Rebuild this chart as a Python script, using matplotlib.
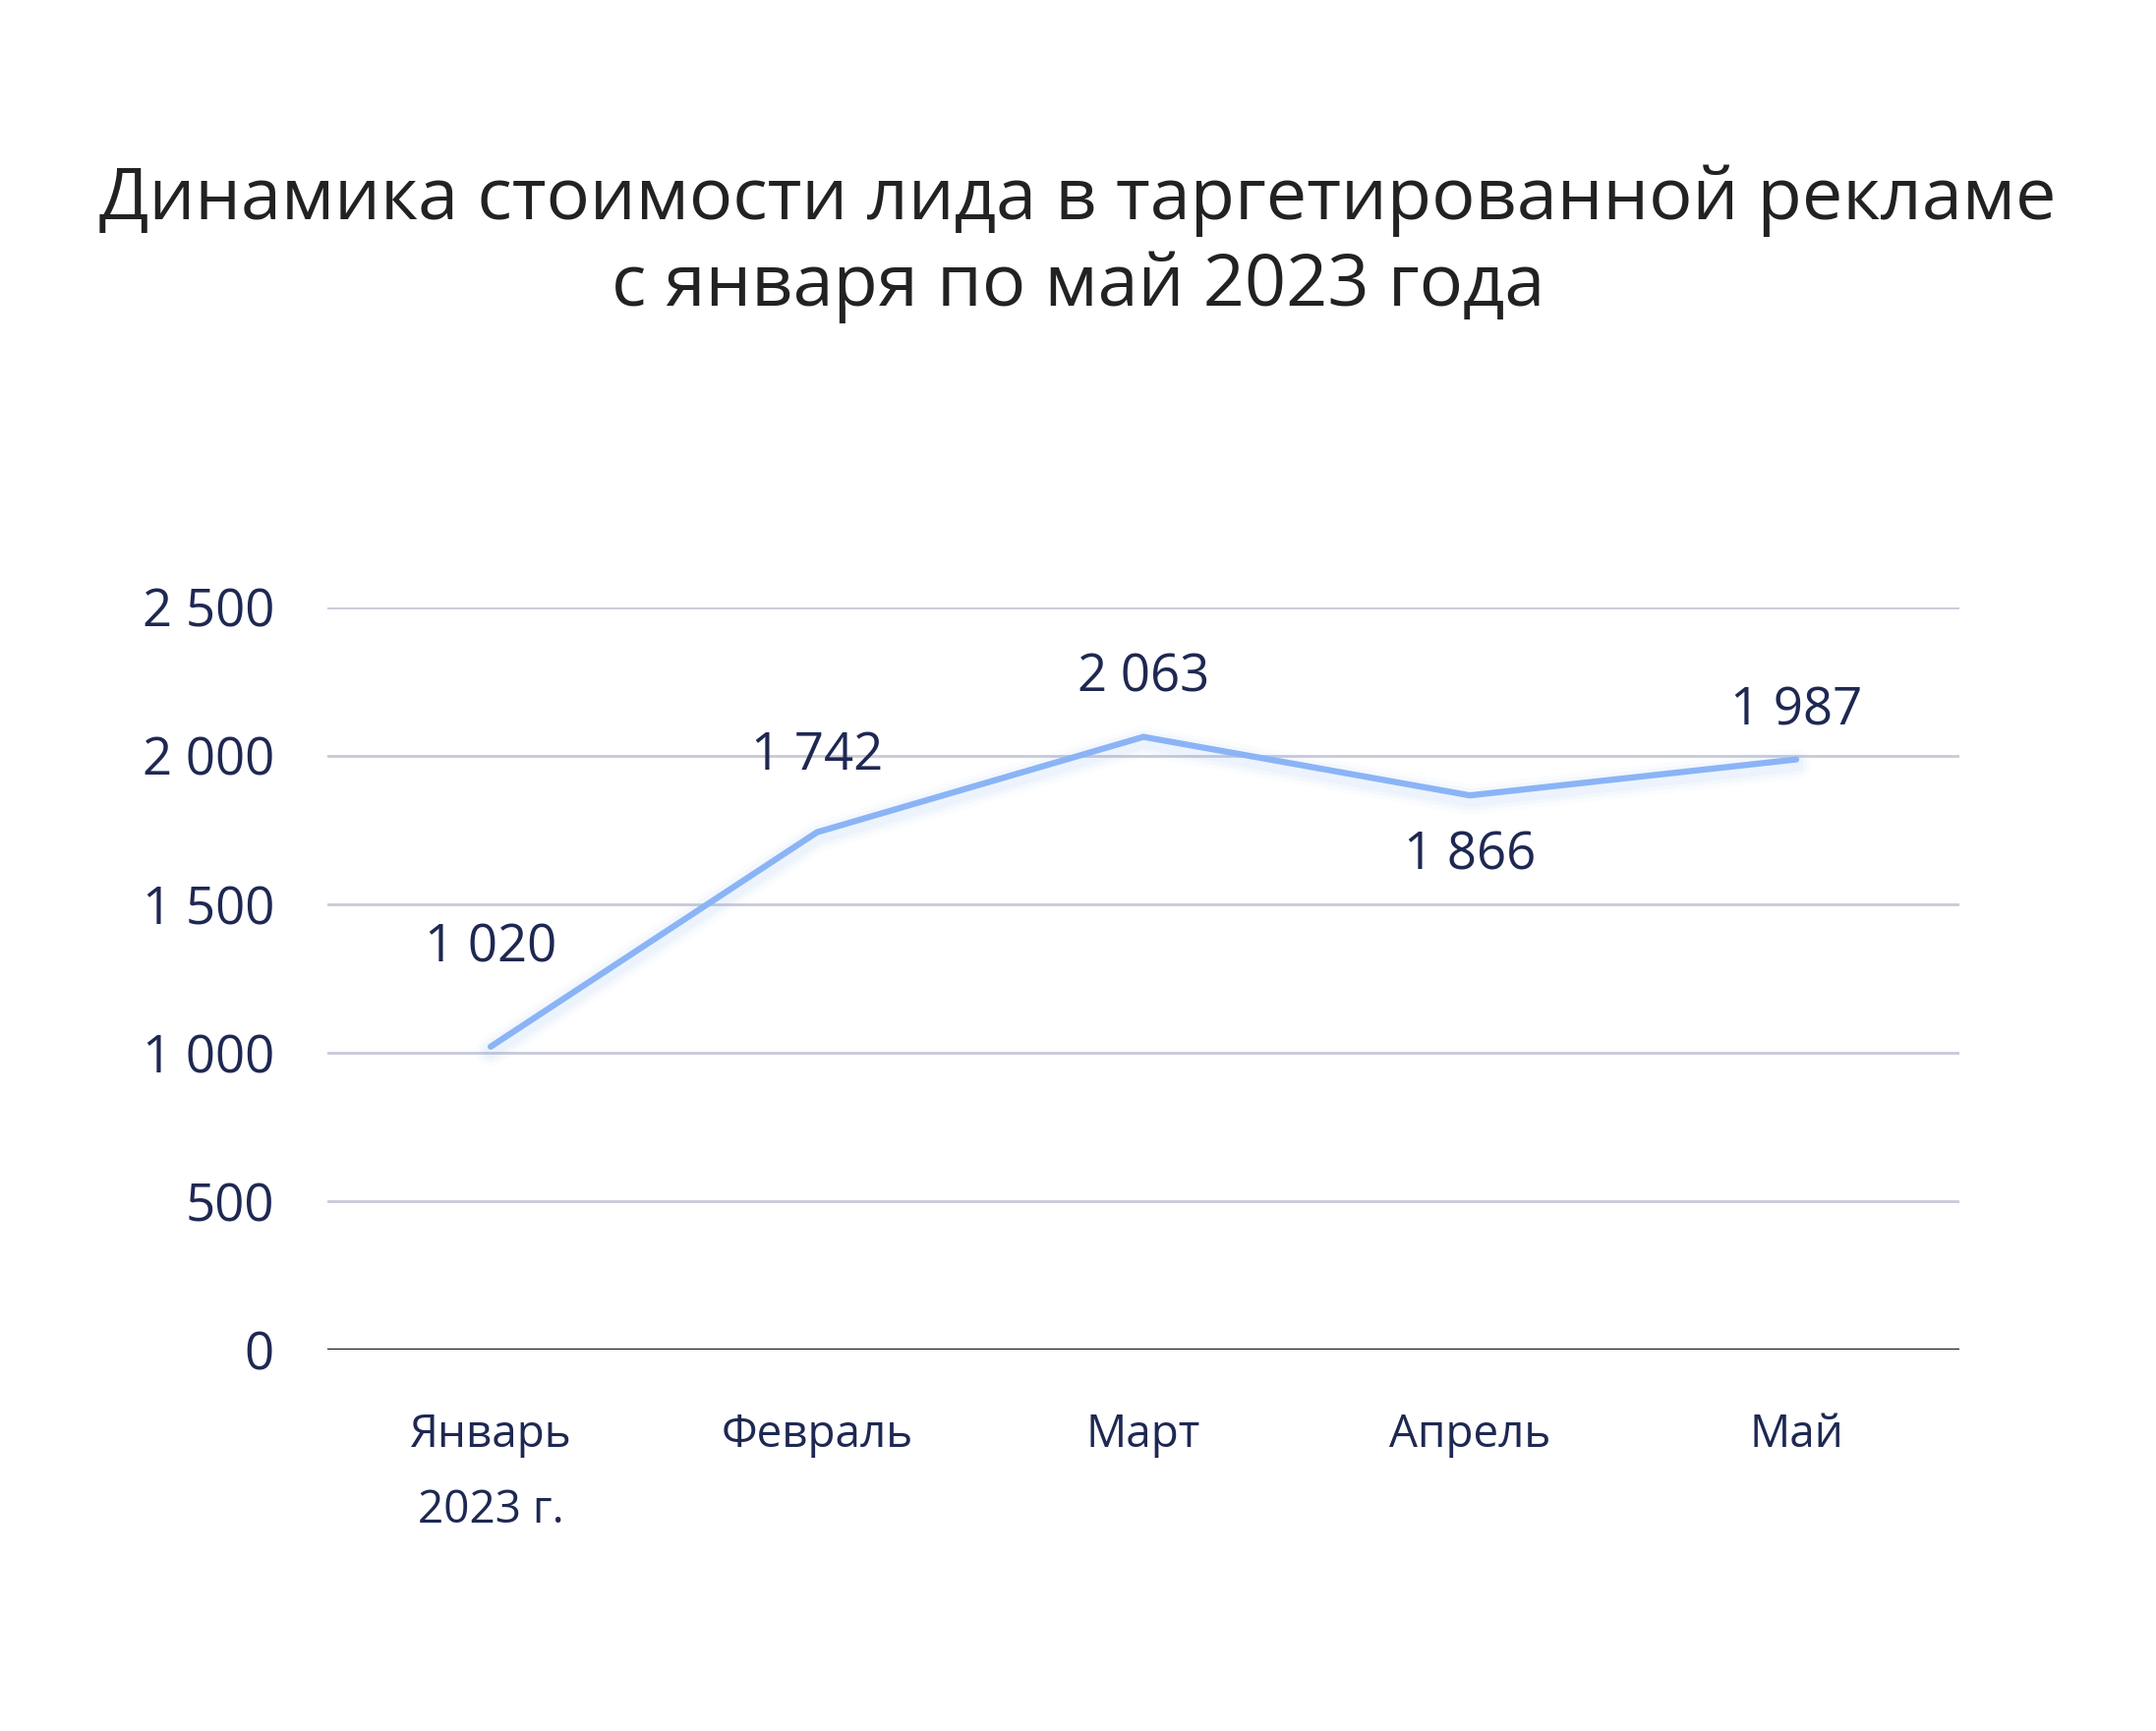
import matplotlib
matplotlib.use('Agg')
import matplotlib.pyplot as plt
from matplotlib.ticker import FuncFormatter

# Данные
months = ['Январь\n2023 г.', 'Февраль', 'Март', 'Апрель', 'Май']
cost = [1020, 1742, 2063, 1866, 1987]
y_ticks = [0, 500, 1000, 1500, 2000, 2500]
title = 'Динамика стоимости лида в таргетированной рекламе\nс января по май 2023 года'

# смещения подписей над/под точками (в пунктах)
label_offsets = [72, 56, 43, -44, 35]

LINE = '#8ab4f6'
NAVY = '#1e2852'
GRID = '#c8cad8'

plt.rcParams['font.family'] = ['Open Sans', 'DejaVu Sans']


def fmt(v, _=None):
    return f'{int(v):,}'.replace(',', ' ')


fig = plt.figure(figsize=(21.93, 17.61), dpi=100)
ax = fig.add_axes([0.1519, 0.2203, 0.7569, 0.4290])

x = list(range(len(months)))

# мягкое свечение под линией
for lw, a in [(22, 0.04), (16, 0.05), (11, 0.07)]:
    ax.plot(x, [v - 15 for v in cost], color=LINE, lw=lw, alpha=a,
            solid_capstyle='round', solid_joinstyle='round', zorder=2)
ax.plot(x, cost, color=LINE, lw=4.5, solid_capstyle='round',
        solid_joinstyle='miter', zorder=3)

for xi, v, off in zip(x, cost, label_offsets):
    ax.annotate(fmt(v), (xi, v), xytext=(0, off), textcoords='offset points',
                ha='center', va='center', fontsize=38, color=NAVY)

ax.set_xlim(-0.5, len(months) - 0.5)
ax.set_ylim(0, 2500)
ax.set_yticks(y_ticks)
ax.yaxis.set_major_formatter(FuncFormatter(fmt))
ax.set_xticks(x)
ax.set_xticklabels(months, linespacing=1.9, va='top')

for t in y_ticks[1:]:
    ax.axhline(t, color=GRID, lw=2, zorder=1)
ax.axhline(0, color='#1b1f2e', lw=2.4, zorder=1)

for s in ax.spines.values():
    s.set_visible(False)
ax.tick_params(axis='y', length=0, pad=39, labelsize=38, labelcolor=NAVY)
ax.tick_params(axis='x', length=0, pad=46, labelsize=33, labelcolor=NAVY)

fig.text(0.5, 0.8590, title, ha='center', va='center', fontsize=53.2,
         color='#222222', linespacing=1.25)

fig.savefig('out.png', dpi=100, facecolor='white')
